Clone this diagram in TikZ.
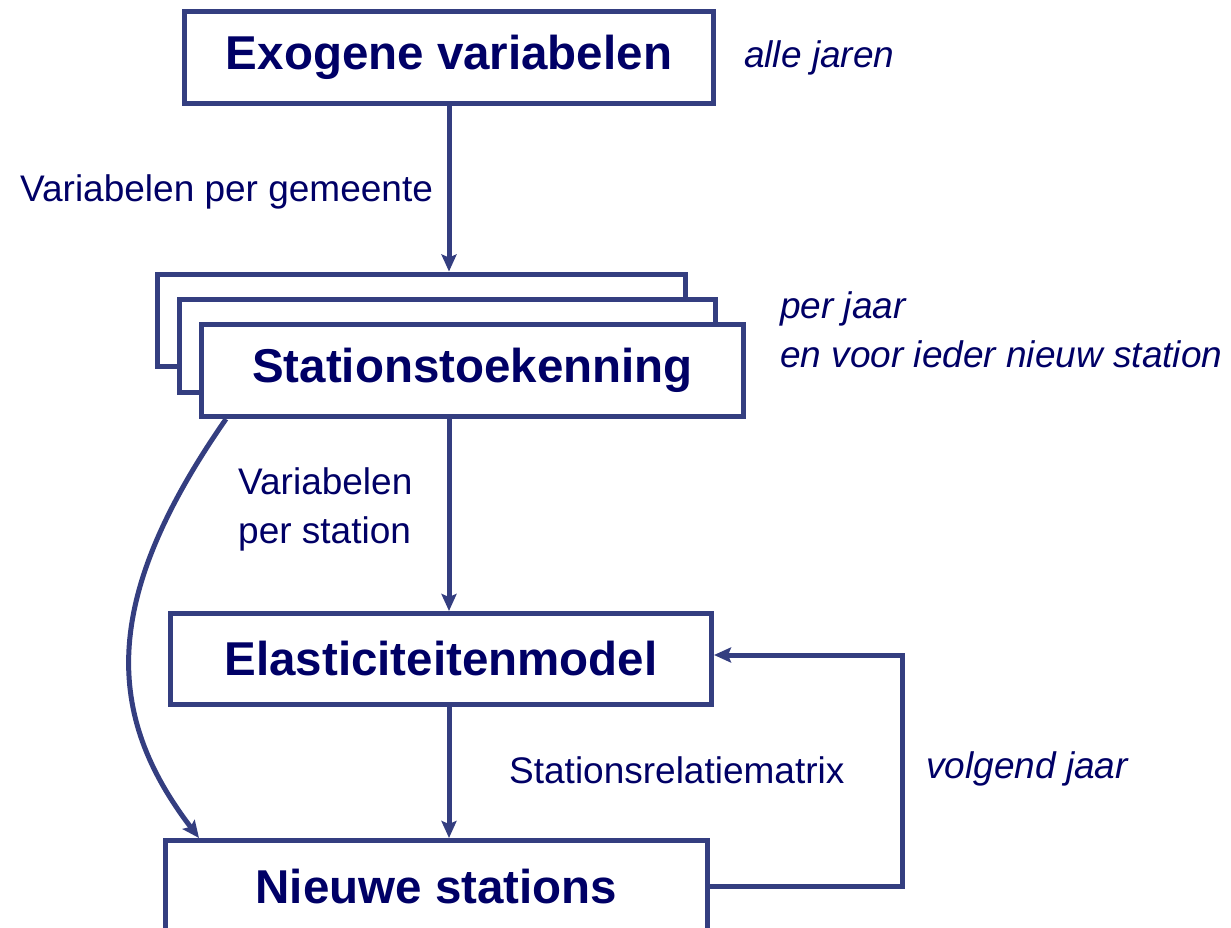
\documentclass[tikz,border=0pt]{standalone}
\usepackage{fontspec}
\setmainfont{Liberation Sans}
\usetikzlibrary{arrows.meta,calc}
\definecolor{linec}{RGB}{52,62,128}
\definecolor{textc}{RGB}{0,0,102}
\tikzset{
  box/.style={draw=linec, line width=5pt, fill=white, rectangle, inner sep=0pt,
    text=textc, font=\fontsize{47.5}{56}\selectfont\bfseries},
  conn/.style={draw=linec, line width=5pt, -{Stealth[length=17pt,width=15pt,inset=3pt]}},
  lbl/.style={text=textc, inner sep=0pt, anchor=base west, font=\fontsize{37}{44}\selectfont},
  ilbl/.style={lbl, font=\fontsize{37}{44}\selectfont\itshape}
}
\begin{document}
\begin{tikzpicture}[x=1pt,y=-1pt]
\useasboundingbox (0,0) rectangle (1231,928);
\clip (0,0) rectangle (1231,928);
\fill[white] (0,0) rectangle (1231,928);
% boxes
\node[box, minimum width=529pt, minimum height=92pt] (exo) at (449,57.5) {Exogene variabelen};
\node[box, minimum width=528pt, minimum height=92pt] (back) at (421.5,320) {};
\node[box, minimum width=536pt, minimum height=93pt] (mid) at (447.5,345.5) {};
\node[box, minimum width=542pt, minimum height=92pt] (front) at (472.5,370.5) {Stationstoekenning};
\node[box, minimum width=541pt, minimum height=91pt] (elast) at (441,659) {Elasticiteitenmodel};
\node[box, minimum width=542pt, minimum height=92pt] (nieuw) at (436.5,886.5) {Nieuwe stations};
% connectors
\draw[conn] (exo.south) -- (back.north -| exo.south);
\draw[conn] (front.south -| exo.south) -- (elast.north -| exo.south);
\draw[conn] (elast.south -| exo.south) -- (nieuw.north -| exo.south);
\coordinate (cstart) at ([xshift=27pt]front.south west);
\coordinate (cend) at ([xshift=36pt]nieuw.north west);
\draw[conn] (cstart) .. controls (100,600) and (105,715) .. (cend);
\coordinate (fb) at (902,655);
\draw[conn] (nieuw.east) -| (fb) -- (fb -| elast.east);
% labels
\node[ilbl] (l1) at (744,68) {alle jaren};
\node[lbl] (l2) at (20,202) {Variabelen per gemeente};
\node[ilbl] (l3) at (780,318) {per jaar};
\node[ilbl] (l4) at (780,367) {en voor ieder nieuw station};
\node[lbl] (l5) at (238,494) {Variabelen};
\node[lbl] (l6) at (238,543) {per station};
\node[lbl] (l7) at (509,783) {Stationsrelatiematrix};
\node[ilbl] (l8) at (926,778) {volgend jaar};
\end{tikzpicture}
\end{document}
